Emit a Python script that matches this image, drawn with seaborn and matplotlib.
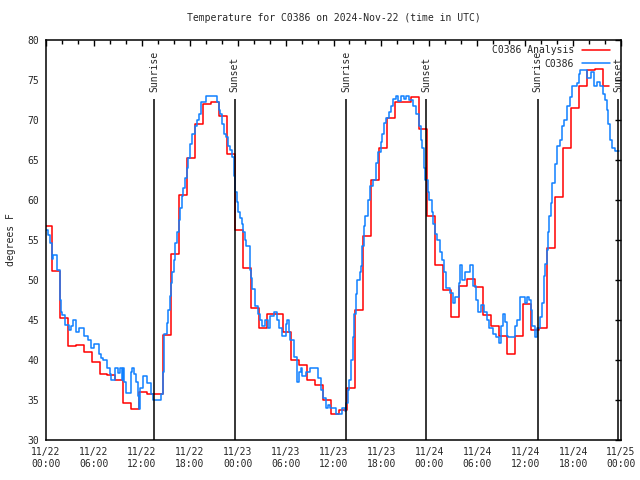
import pandas as pd
import seaborn as sns
import matplotlib.pyplot as plt
import matplotlib.dates as mdates

start = pd.Timestamp('2024-11-22 00:00')

# hourly analysis steps (hours since start, deg F)
analysis_hours = [0, 0.7, 1.7, 2.7, 3.7, 4.7, 5.7, 6.7, 7.7, 8.7, 9.7, 10.7, 11.7, 12.7, 13.7,
                  14.7, 15.7, 16.7, 17.7, 18.7, 19.7, 20.7, 21.7, 22.7, 23.7, 24.7, 25.7, 26.7,
                  27.7, 28.7, 29.7, 30.7, 31.7, 32.7, 33.7, 34.7, 35.7, 36.7, 37.7, 38.7, 39.7,
                  40.7, 41.7, 42.7, 43.7, 44.7, 45.7, 46.7, 47.7, 48.7, 49.7, 50.7, 51.7, 52.7,
                  53.7, 54.7, 55.7, 56.7, 57.7, 58.7, 59.7, 60.7, 61.7, 62.7, 63.7, 64.7, 65.7,
                  66.7, 67.7, 68.7, 69.7, 70.5]
analysis_temps = [56.75, 51.1, 45.2, 41.75, 41.9, 41.0, 39.7, 38.3, 38.1, 37.5, 34.6, 33.9, 36.0,
                  35.8, 35.8, 43.1, 53.25, 60.6, 65.2, 69.5, 72.0, 72.3, 70.5, 65.8, 56.25, 51.5,
                  46.5, 44.0, 45.8, 45.8, 43.5, 40.0, 39.4, 37.5, 36.9, 35.0, 33.3, 33.75, 36.5,
                  46.25, 55.5, 62.5, 66.5, 70.3, 72.3, 72.3, 72.9, 68.9, 58.0, 51.9, 48.8, 45.4,
                  49.25, 50.1, 49.1, 45.6, 44.2, 43.0, 40.7, 43.0, 47.0, 43.75, 44.0, 54.0, 60.4,
                  66.5, 71.5, 74.2, 76.2, 76.4, 74.2, 74.2]

# station observations
obs_hours = [0.0, 0.3, 0.5, 0.7, 0.9, 1.4, 1.75, 1.9, 2.0, 2.4, 2.85, 3.1, 3.4, 3.7, 3.8, 4.1,
             4.7, 5.2, 5.6, 6.0, 6.6, 6.9, 7.2, 7.7, 8.0, 8.2, 8.6, 9.0, 9.25, 9.5, 9.6, 9.8,
             10.0, 10.6, 10.8, 11.0, 11.25, 11.5, 11.6, 11.8, 12.1, 12.7, 13.2, 13.4, 14.4,
             14.6, 14.8, 15.1, 15.3, 15.5, 15.6, 15.8, 16.0, 16.2, 16.4, 16.6, 16.8, 17.0,
             17.2, 17.4, 17.6, 17.8, 18.0, 18.3, 18.6, 18.9, 19.2, 19.4, 20.0, 21.4, 21.6,
             21.8, 22.1, 22.3, 22.5, 22.8, 23.0, 23.3, 23.5, 23.7, 23.9, 24.1, 24.3, 24.5,
             24.7, 24.9, 25.1, 25.5, 25.7, 25.8, 26.2, 26.5, 26.8, 27.1, 27.4, 27.8, 28.1,
             28.5, 28.9, 29.2, 29.6, 30.0, 30.2, 30.4, 30.6, 31.0, 31.4, 31.7, 31.9, 32.1,
             32.5, 33.1, 34.1, 34.4, 34.7, 35.0, 35.3, 35.6, 36.3, 37.1, 37.4, 37.6, 37.8,
             38.0, 38.2, 38.4, 38.6, 38.8, 39.0, 39.3, 39.5, 39.6, 39.8, 40.0, 40.3, 40.6,
             41.0, 41.3, 41.6, 41.9, 42.1, 42.3, 42.6, 42.9, 43.2, 43.4, 43.8, 44.1, 44.4,
             44.8, 45.1, 45.4, 46.0, 46.3, 46.7, 46.9, 47.1, 47.3, 47.5, 47.8, 48.0, 48.3,
             48.5, 48.7, 49.0, 49.3, 49.6, 49.8, 50.1, 50.6, 51.0, 51.25, 51.7, 51.9, 52.1,
             52.5, 53.1, 53.5, 53.8, 54.1, 54.5, 54.9, 55.2, 55.5, 56.0, 56.4, 56.7, 57.0,
             57.2, 57.5, 57.7, 57.9, 58.75, 59.0, 59.4, 60.0, 60.2, 60.5, 60.7, 60.9, 61.2,
             61.5, 61.9, 62.1, 62.3, 62.5, 62.7, 62.9, 63.0, 63.2, 63.4, 63.7, 64.0, 64.3,
             64.6, 64.9, 65.25, 65.6, 65.9, 66.5, 66.7, 66.9, 67.75, 68.2, 68.6, 69.0, 69.4,
             69.7, 70.0, 70.2, 70.4, 70.6, 70.9, 71.2, 71.75]
obs_temps = [56.3, 55.6, 54.6, 52.6, 53.1, 51.2, 47.5, 46.0, 45.6, 44.4, 43.7, 44.2, 45.0, 44.4,
             43.5, 44.0, 43.0, 42.5, 41.5, 42.0, 40.8, 40.3, 40.0, 39.0, 38.3, 37.5, 39.0,
             38.4, 39.0, 37.5, 39.0, 37.3, 35.9, 38.5, 39.0, 38.2, 37.3, 35.5, 33.9, 36.5,
             38.0, 37.1, 35.8, 35.0, 35.8, 38.5, 43.3, 44.6, 46.3, 48.0, 49.6, 51.0, 52.5,
             54.6, 56.0, 57.5, 59.0, 60.5, 61.5, 62.8, 64.0, 65.2, 67.0, 68.3, 69.2, 70.0,
             70.8, 72.3, 73.0, 72.3, 71.3, 70.8, 69.5, 68.3, 67.9, 66.8, 66.2, 65.4, 63.0,
             61.0, 59.8, 58.5, 57.8, 57.0, 56.0, 55.0, 54.2, 51.2, 50.2, 48.9, 46.8, 45.8,
             45.0, 44.2, 45.0, 44.0, 45.5, 46.0, 45.0, 44.0, 43.0, 44.5, 45.0, 43.5, 42.5,
             40.4, 37.3, 38.5, 39.0, 38.0, 38.5, 39.0, 37.7, 36.3, 35.2, 34.0, 34.4, 34.0,
             33.2, 34.0, 33.6, 34.6, 36.3, 37.5, 40.0, 42.9, 45.8, 48.3, 50.0, 51.0, 51.7,
             54.2, 56.7, 58.0, 60.0, 61.7, 62.5, 64.6, 66.0, 67.3, 68.2, 69.6, 70.3, 71.0,
             71.7, 72.6, 73.0, 72.4, 73.0, 72.6, 73.0, 72.5, 71.8, 70.8, 69.2, 67.5, 66.5,
             64.0, 62.5, 61.0, 60.0, 58.5, 57.0, 55.8, 55.0, 53.5, 52.5, 51.0, 49.0, 48.4,
             47.1, 47.9, 49.6, 51.9, 50.0, 51.0, 51.9, 49.2, 47.5, 46.0, 46.9, 46.0, 45.0,
             44.0, 43.3, 42.9, 42.1, 44.2, 45.8, 44.8, 43.0, 42.9, 44.2, 45.0, 47.9, 47.1,
             47.9, 47.5, 46.3, 44.2, 42.9, 44.0, 45.4, 47.1, 50.5, 52.0, 53.75, 56.0, 58.0,
             59.6, 62.1, 64.5, 66.7, 67.5, 69.2, 70.0, 71.7, 72.9, 74.2, 74.6, 75.8, 76.2,
             75.2, 76.0, 74.2, 74.8, 74.2, 73.3, 72.5, 71.25, 69.5, 67.5, 66.5, 66.1, 66.1]

sun_hours = [13.55, 23.65, 37.57, 47.63, 61.58, 71.62]
sun_labels = ['Sunrise', 'Sunset', 'Sunrise', 'Sunset', 'Sunrise', 'Sunset']

analysis = pd.DataFrame({'time': start + pd.to_timedelta(analysis_hours, unit='h'),
                         'temp': analysis_temps})
obs = pd.DataFrame({'time': start + pd.to_timedelta(obs_hours, unit='h'), 'temp': obs_temps})
sun_times = start + pd.to_timedelta(sun_hours, unit='h')

sns.set_style('white')
plt.rcParams['font.family'] = ['DejaVu Sans Mono']

fig = plt.figure(figsize=(6.4, 4.8), dpi=100)
ax = fig.add_axes([46 / 640, 40 / 480, 575 / 640, 400 / 480])

sns.lineplot(data=analysis, x='time', y='temp', drawstyle='steps-post', color='#ff0000',
             linewidth=1.1, estimator=None, label='C0386 Analysis', ax=ax)
sns.lineplot(data=obs, x='time', y='temp', drawstyle='steps-post', color='#1080ff',
             linewidth=1.1, estimator=None, label='C0386', ax=ax)

ax.vlines(sun_times, 30, 72.6, color='black', linewidth=1.1)
for t, lab in zip(sun_times, sun_labels):
    ax.text(t, 73.5, lab, rotation=90, ha='center', va='bottom', fontsize=7)

ax.set_xlim(start, start + pd.Timedelta(hours=72))
ax.set_ylim(30, 80)
ax.set_yticks(range(30, 81, 5))
ax.xaxis.set_major_locator(mdates.HourLocator(byhour=[0, 6, 12, 18]))
ax.xaxis.set_minor_locator(mdates.HourLocator(byhour=range(0, 24, 2)))
ax.xaxis.set_major_formatter(mdates.DateFormatter('%m/%d\n%H:%M'))
ax.tick_params(which='both', direction='in', top=True, right=True, labelsize=7,
               color='black', width=1)
ax.tick_params(which='major', length=4.5, pad=5)
ax.tick_params(which='minor', length=2.8)
for lbl in ax.get_xticklabels():
    lbl.set_linespacing(1.3)
for s in ax.spines.values():
    s.set_color('black')
    s.set_linewidth(1.1)

ax.set_xlabel('')
ax.set_ylabel('degrees F', fontsize=7, labelpad=8)
ax.set_title('Temperature for C0386 on 2024-Nov-22 (time in UTC)', fontsize=7, pad=14)

ax.legend(loc='upper right', frameon=False, markerfirst=False, fontsize=7,
          handlelength=2.9, handletextpad=0.8, labelspacing=0.35,
          bbox_to_anchor=(0.99, 1.0), borderaxespad=0.15)

plt.savefig('out.png', dpi=100)
